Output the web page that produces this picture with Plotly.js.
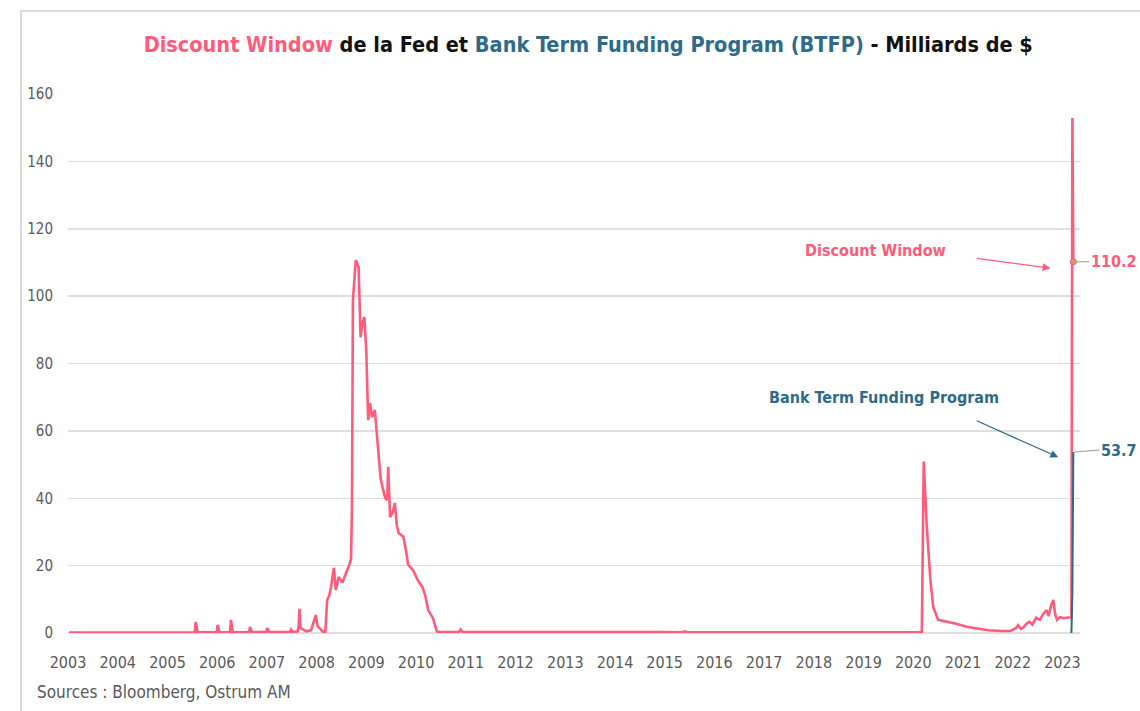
<!DOCTYPE html>
<html>
<head>
<meta charset="utf-8">
<script src="https://cdn.plot.ly/plotly-3.0.1.min.js"></script>
<style>
  body { margin: 0; overflow: hidden; background: #fff; }
  #chart { width: 1140px; height: 711px; }
  #frame { position: absolute; left: 20px; top: 10px; width: 2000px; height: 2000px;
           border: 2px solid #dcdcdc; pointer-events: none; }
</style>
</head>
<body>
<div id="chart"></div>
<div id="frame"></div>
<script>
// Discount Window (weekly-ish, billions $)
const dwDates = [
  '2003-01-08','2003-06-04','2003-09-10','2003-10-01','2004-03-03','2004-08-04','2004-12-01',
  '2005-04-06','2005-07-20','2005-07-27','2005-08-10','2005-12-28','2006-01-04','2006-01-18',
  '2006-04-05','2006-04-12','2006-04-26','2006-08-23','2006-08-30','2006-09-13','2006-12-27',
  '2007-01-03','2007-01-17','2007-06-20','2007-06-27','2007-07-11','2007-08-15','2007-08-22',
  '2007-08-29','2007-09-05','2007-10-17','2007-11-21','2007-12-19','2007-12-26','2008-01-09',
  '2008-02-13','2008-03-05','2008-03-19','2008-04-02','2008-04-16','2008-05-07','2008-05-21',
  '2008-06-11','2008-07-09','2008-08-13','2008-08-27','2008-09-10','2008-09-17','2008-09-24',
  '2008-10-01','2008-10-15','2008-11-05','2008-11-19','2008-12-03','2008-12-17','2008-12-31',
  '2009-01-14','2009-01-28','2009-02-11','2009-03-04','2009-03-25','2009-04-15','2009-04-29',
  '2009-05-20','2009-06-03','2009-06-10','2009-06-24','2009-07-15','2009-07-29','2009-08-12',
  '2009-08-26','2009-09-30','2009-10-21','2009-11-04','2009-12-09','2010-01-13','2010-02-17',
  '2010-03-10','2010-03-31','2010-05-05','2010-06-02','2010-06-16','2010-11-10','2010-11-24',
  '2010-12-08','2012-03-07','2012-06-06','2012-08-08','2015-01-07','2015-05-06','2015-06-03',
  '2015-06-17','2017-12-06','2018-04-04','2019-12-04','2020-03-04','2020-03-18','2020-04-08',
  '2020-05-06','2020-05-27','2020-07-01','2020-09-09','2020-11-04','2021-02-03','2021-05-05',
  '2021-07-07','2021-10-06','2021-12-15','2022-01-26','2022-02-09','2022-03-02','2022-03-23',
  '2022-04-13','2022-05-04','2022-05-25','2022-06-22','2022-07-20','2022-08-10','2022-09-07',
  '2022-09-21','2022-10-12','2022-10-26','2022-11-09','2022-11-23','2022-12-14','2023-01-11',
  '2023-02-08','2023-03-08','2023-03-15','2023-03-22'
];
const dwValues = [
  0.1,0.1,0.3,0.1,0.1,0.2,0.1,
  0.2,0.1,3.3,0.2,0.2,2.4,0.2,
  0.3,3.9,0.2,0.3,1.8,0.3,0.3,
  1.5,0.3,0.3,1.0,0.3,0.5,2.0,
  7.2,1.5,0.5,0.8,4.5,5.3,2.0,
  0.5,0.3,9.8,11.0,13.6,19.3,12.8,
  16.6,15.0,18.7,20.0,22.0,37.4,98.8,
  104.0,110.7,108.6,87.8,92.0,93.8,84.0,
  63.2,68.2,64.0,66.2,55.2,46.0,43.3,
  40.0,39.5,49.3,34.4,36.0,38.6,32.0,
  29.7,28.5,24.0,20.2,18.7,15.7,13.6,
  11.0,6.8,4.4,0.5,0.3,0.3,1.0,
  0.3,0.3,0.5,0.3,0.3,0.2,0.5,
  0.2,0.3,0.2,0.3,0.2,50.9,32.6,
  15.7,7.7,3.9,3.3,2.8,1.8,1.2,
  0.8,0.6,0.6,1.5,2.3,1.2,1.8,
  2.8,3.3,2.5,4.5,3.9,5.5,6.8,
  5.0,8.5,9.8,5.5,3.9,4.7,4.4,
  4.6,4.6,152.9,110.2
];

// Bank Term Funding Program
const btfpDates = ['2023-03-08','2023-03-15','2023-03-22'];
const btfpValues = [0, 11.9, 53.7];

const yTicks = [0, 20, 40, 60, 80, 100, 120, 140, 160];
const yearTicks = [];
for (let y = 2003; y <= 2023; y++) yearTicks.push(y + '-01-01');
const yearLabels = yearTicks.map(d => d.slice(0, 4));

const pink = '#ff5b7b';
const blue = '#2e6b8a';
const narrow = '"DejaVu Sans Condensed", "Liberation Sans Narrow", Arial, sans-serif';

const dwLast = dwValues[dwValues.length - 1];
const dwLastDate = dwDates[dwDates.length - 1];
const btfpLast = btfpValues[btfpValues.length - 1];
const btfpLastDate = btfpDates[btfpDates.length - 1];

let traces = [
  {
    x: dwDates, y: dwValues, type: 'scatter', mode: 'lines', name: 'Discount Window',
    line: {color: pink, width: 2.6}
  },
  {
    x: btfpDates, y: btfpValues, type: 'scatter', mode: 'lines', name: 'BTFP',
    line: {color: blue, width: 2}
  },
  {
    x: [dwLastDate], y: [dwLast], type: 'scatter', mode: 'markers', name: 'last',
    marker: {color: '#c8a05a', size: 6, line: {color: pink, width: 1}}
  }
];

let layout = {
  width: 1140, height: 711,
  margin: {l: 68, r: 60, t: 94, b: 78},
  showlegend: false,
  paper_bgcolor: '#fff', plot_bgcolor: '#fff',
  title: {
    text: '<b><span style="color:' + pink + '">Discount Window</span> de la Fed et ' +
          '<span style="color:' + blue + '">Bank Term Funding Program (BTFP)</span> - Milliards de $</b>',
    font: {family: narrow, size: 21.5, color: '#111'},
    xref: 'container', x: 0.516, xanchor: 'center',
    yref: 'container', y: 0.937, yanchor: 'middle'
  },
  xaxis: {
    type: 'date',
    range: ['2003-01-01', '2023-05-10'],
    tickvals: yearTicks, ticktext: yearLabels,
    showgrid: false, zeroline: false, showline: false,
    tickfont: {family: narrow, size: 16, color: '#595959'},
    ticks: '', ticklabelstandoff: 18
  },
  yaxis: {
    range: [0, 160],
    tickvals: yTicks,
    showgrid: true, gridcolor: '#dedede', gridwidth: 1.5,
    zeroline: true, zerolinecolor: '#dedede', zerolinewidth: 1.5,
    showline: false,
    tickfont: {family: narrow, size: 15, color: '#595959'},
    ticks: '', ticklabelstandoff: 14
  },
  annotations: [
    {
      xref: 'paper', yref: 'paper', x: -0.033, y: -0.11, xanchor: 'left', yanchor: 'middle',
      text: 'Sources : Bloomberg, Ostrum AM', showarrow: false,
      font: {family: narrow, size: 17, color: '#595959'}
    },
    {
      x: '2019-04-01', y: 113.5, text: '<b>Discount Window</b>', showarrow: false,
      font: {family: narrow, size: 16, color: pink}
    },
    {
      x: '2022-10-05', y: 108.3, text: '', showarrow: true, arrowhead: 2, arrowsize: 1.3,
      arrowwidth: 1.2, arrowcolor: pink, axref: 'pixel', ayref: 'pixel', ax: -75, ay: -10
    },
    {
      x: '2019-06-01', y: 70, text: '<b>Bank Term Funding Program</b>', showarrow: false,
      font: {family: narrow, size: 16, color: blue}
    },
    {
      x: '2022-12-01', y: 52.2, text: '', showarrow: true, arrowhead: 2, arrowsize: 1.3,
      arrowwidth: 1.2, arrowcolor: blue, axref: 'pixel', ayref: 'pixel', ax: -83, ay: -37
    },
    {
      x: dwLastDate, y: dwLast, text: '<b>' + dwLast.toFixed(1) + '</b>', showarrow: true,
      arrowhead: 0, arrowwidth: 1, arrowcolor: '#9a9a9a', ax: 16, ay: 0, xanchor: 'left',
      standoff: 3, font: {family: narrow, size: 16, color: pink}
    },
    {
      x: btfpLastDate, y: btfpLast, text: '<b>' + btfpLast.toFixed(1) + '</b>', showarrow: true,
      arrowhead: 0, arrowwidth: 1, arrowcolor: '#9a9a9a', ax: 26, ay: -2, xanchor: 'left',
      standoff: 1, font: {family: narrow, size: 16, color: blue}
    }
  ]
};

Plotly.newPlot('chart', traces, layout, {displayModeBar: false, staticPlot: true});
</script>
</body>
</html>
